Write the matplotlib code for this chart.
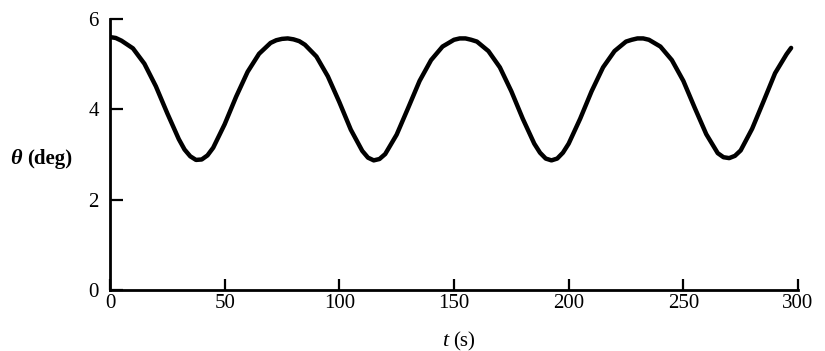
import matplotlib.pyplot as plt

# angle vs time (extra readings near the turning points)
t_s = [0, 2.5, 5, 10, 15, 20, 25, 30, 32.5, 35, 37.5, 40, 42.5, 45, 50, 55, 60, 65, 70, 72.5, 75,
       77.5, 80, 82.5, 85, 90, 95, 100, 105, 110, 112.5, 115, 117.5, 120, 125, 130, 135, 140, 145, 150,
       152.5, 155, 157.5, 160, 165, 170, 175, 180, 185, 187.5, 190, 192.5, 195, 197.5, 200, 205, 210,
       215, 220, 225, 227.5, 230, 232.5, 235, 240, 245, 250, 255, 260, 265, 267.5, 270, 272.5, 275,
       280, 285, 290, 295, 297]
theta_deg = [5.60, 5.58, 5.52, 5.35, 5.01, 4.51, 3.91, 3.34, 3.11, 2.96, 2.88, 2.89, 2.98, 3.15, 3.67,
             4.28, 4.83, 5.23, 5.47, 5.53, 5.56,
             5.57, 5.55, 5.51, 5.43, 5.17, 4.73, 4.16, 3.55, 3.08, 2.93, 2.87, 2.90, 3.01, 3.44, 4.03,
             4.63, 5.09, 5.39, 5.54,
             5.57, 5.57, 5.54, 5.50, 5.29, 4.93, 4.40, 3.79, 3.24, 3.04, 2.91, 2.87, 2.91, 3.04, 3.24,
             3.79, 4.40,
             4.93, 5.29, 5.50, 5.54, 5.57, 5.57, 5.54, 5.39, 5.09, 4.63, 4.03, 3.45, 3.03, 2.94, 2.92,
             2.97, 3.09,
             3.57, 4.18, 4.80, 5.22, 5.36]

x_ticks = [0, 50, 100, 150, 200, 250, 300]
y_ticks = [0, 2, 4, 6]

serif = "Liberation Serif"

fig = plt.figure(figsize=(8.25, 3.51), dpi=100)
ax = fig.add_axes([110 / 825, 61 / 351, 688 / 825, 271 / 351])

ax.plot(t_s, theta_deg, color="black", lw=3.2, solid_capstyle="round", solid_joinstyle="round")

ax.set_xlim(0, 300)
ax.set_ylim(0, 6)
ax.set_xticks(x_ticks)
ax.set_yticks(y_ticks)
for s in ["top", "right"]:
    ax.spines[s].set_visible(False)
for s in ["left", "bottom"]:
    ax.spines[s].set_linewidth(2.0)
ax.tick_params(axis="both", direction="in", width=1.6, labelsize=15, colors="black")
ax.tick_params(axis="y", length=9, pad=8)
ax.tick_params(axis="x", length=8, pad=3)
for lab in ax.get_xticklabels() + ax.get_yticklabels():
    lab.set_family(serif)

ax.text(-0.145, 0.485, "θ", transform=ax.transAxes, fontsize=16, family=serif,
        style="italic", fontweight="bold", ha="left", va="center")
ax.text(-0.12, 0.485, "(deg)", transform=ax.transAxes, fontsize=15,
        family=serif, fontweight="bold", ha="left", va="center")
ax.text(0.491, -0.19, "t", transform=ax.transAxes, fontsize=16, family=serif,
        style="italic", ha="right", va="center")
ax.text(0.499, -0.19, "(s)", transform=ax.transAxes, fontsize=15,
        family=serif, ha="left", va="center")

fig.savefig("out.png", dpi=100)
